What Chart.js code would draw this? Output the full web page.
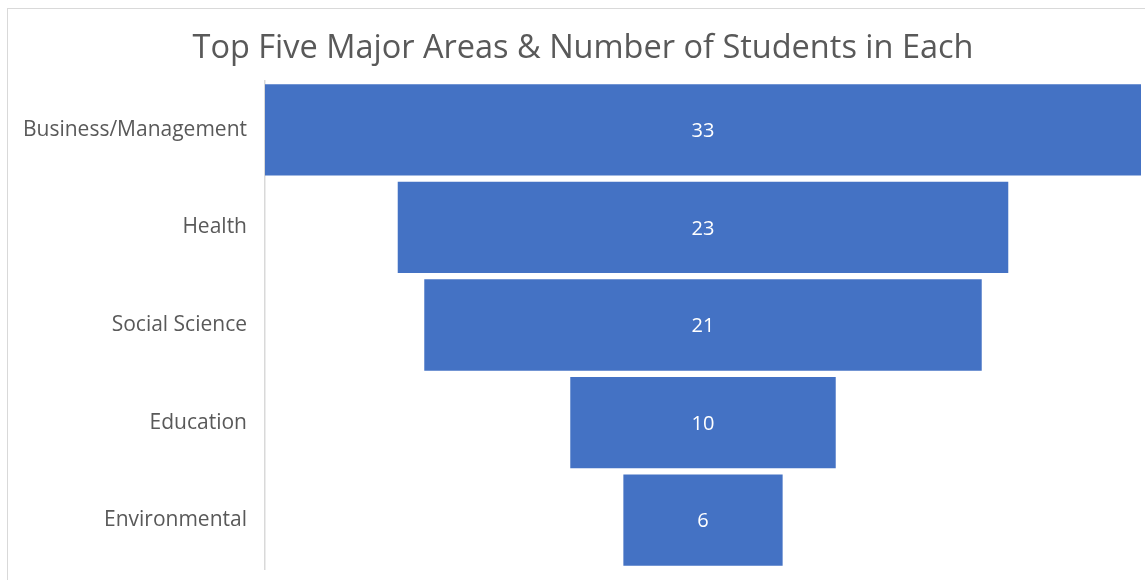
<!DOCTYPE html>
<html>
<head>
<meta charset="utf-8">
<script src="https://cdn.jsdelivr.net/npm/chart.js@4/dist/chart.umd.min.js"></script>
<style>
    html, body { margin: 0; padding: 0; background: #ffffff; }
    #wrap { position: relative; width: 1145px; height: 580px; overflow: hidden; }
    #frame { position: absolute; left: 7px; top: 8px; width: 1300px; height: 700px; border: 1.5px solid #d9d9d9; }
    #chart { position: absolute; left: 0; top: 0; }
</style>
</head>
<body>
<div id="wrap">
    <div id="frame"></div>
    <canvas id="chart" width="1145" height="580"></canvas>
</div>
<script>
const majors = ['Business/Management', 'Health', 'Social Science', 'Education', 'Environmental'];
const students = [33, 23, 21, 10, 6];

const fontFamily = '"Open Sans", "Noto Sans", sans-serif';
const textGrey = '#595959';
const barBlue = '#4472c4';

const half = Math.max(...students) / 2;

// valeurs au centre des barres
const centerLabels = {
    id: 'centerLabels',
    afterDatasetsDraw(chart) {
        const { ctx } = chart;
        const meta = chart.getDatasetMeta(0);
        ctx.save();
        ctx.fillStyle = '#ffffff';
        ctx.font = `20px ${fontFamily}`;
        ctx.textAlign = 'center';
        ctx.textBaseline = 'middle';
        meta.data.forEach((bar, i) => {
            const p = bar.getProps(['x', 'base', 'y'], true);
            ctx.fillText(String(students[i]), (p.x + p.base) / 2, p.y + 1.5);
        });
        ctx.restore();
    },
};

new Chart(document.getElementById('chart').getContext('2d'), {
    type: 'bar',
    data: {
        labels: majors,
        datasets: [
            {
                label: 'Students',
                data: students.map((v) => [-v / 2, v / 2]),
                backgroundColor: barBlue,
                borderWidth: 0,
                barPercentage: 1,
                categoryPercentage: 0.935,
            },
        ],
    },
    options: {
        indexAxis: 'y',
        responsive: false,
        animation: false,
        layout: { padding: { left: 25, right: 4, top: 0, bottom: 11 } },
        plugins: {
            legend: { display: false },
            tooltip: { enabled: false },
            title: {
                display: true,
                text: 'Top Five Major Areas & Number of Students in Each',
                color: textGrey,
                font: { family: fontFamily, size: 32.5, weight: 'normal', lineHeight: 1.2 },
                padding: { top: 29, bottom: 13 },
            },
        },
        scales: {
            x: {
                display: false,
                min: -half,
                max: half,
            },
            y: {
                grid: { display: false, drawTicks: false },
                border: { display: true, color: '#d9d9d9', width: 1.5 },
                ticks: {
                    color: textGrey,
                    font: { family: fontFamily, size: 21 },
                    padding: 18,
                },
                afterFit: (scale) => {
                    scale.width = 240;
                    scale.paddingTop = 0;
                    scale.paddingBottom = 0;
                },
            },
        },
    },
    plugins: [centerLabels],
});
</script>
</body>
</html>
